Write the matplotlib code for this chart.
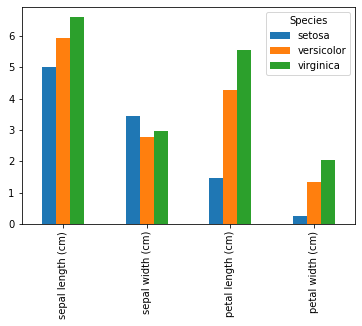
import matplotlib
matplotlib.use("Agg")
import matplotlib.pyplot as plt
import numpy as np

features = ["sepal length (cm)", "sepal width (cm)", "petal length (cm)", "petal width (cm)"]
species = ["setosa", "versicolor", "virginica"]
setosa = [5.006, 3.428, 1.462, 0.246]
versicolor = [5.936, 2.770, 4.260, 1.326]
virginica = [6.588, 2.974, 5.552, 2.026]
colors = ["#1f77b4", "#ff7f0e", "#2ca02c"]


def main():
    fig = plt.figure(figsize=(362 / 72, 326 / 72), dpi=72)
    ax = fig.add_axes([0.0594, 0.313, 0.9226, 0.6655])

    x = np.arange(len(features))
    width = 0.5 / len(species)
    series = [setosa, versicolor, virginica]
    for i, (name, vals) in enumerate(zip(species, series)):
        offset = (i - 1) * width
        ax.bar(x + offset, vals, width, label=name, color=colors[i])

    ax.set_xlim(-0.5, len(features) - 0.5)
    ax.set_xticks(x)
    ax.set_xticklabels(features, rotation=90)
    ax.legend(title="Species", loc="upper right")

    fig.savefig("out.png", dpi=72)


if __name__ == '__main__':
    main()
